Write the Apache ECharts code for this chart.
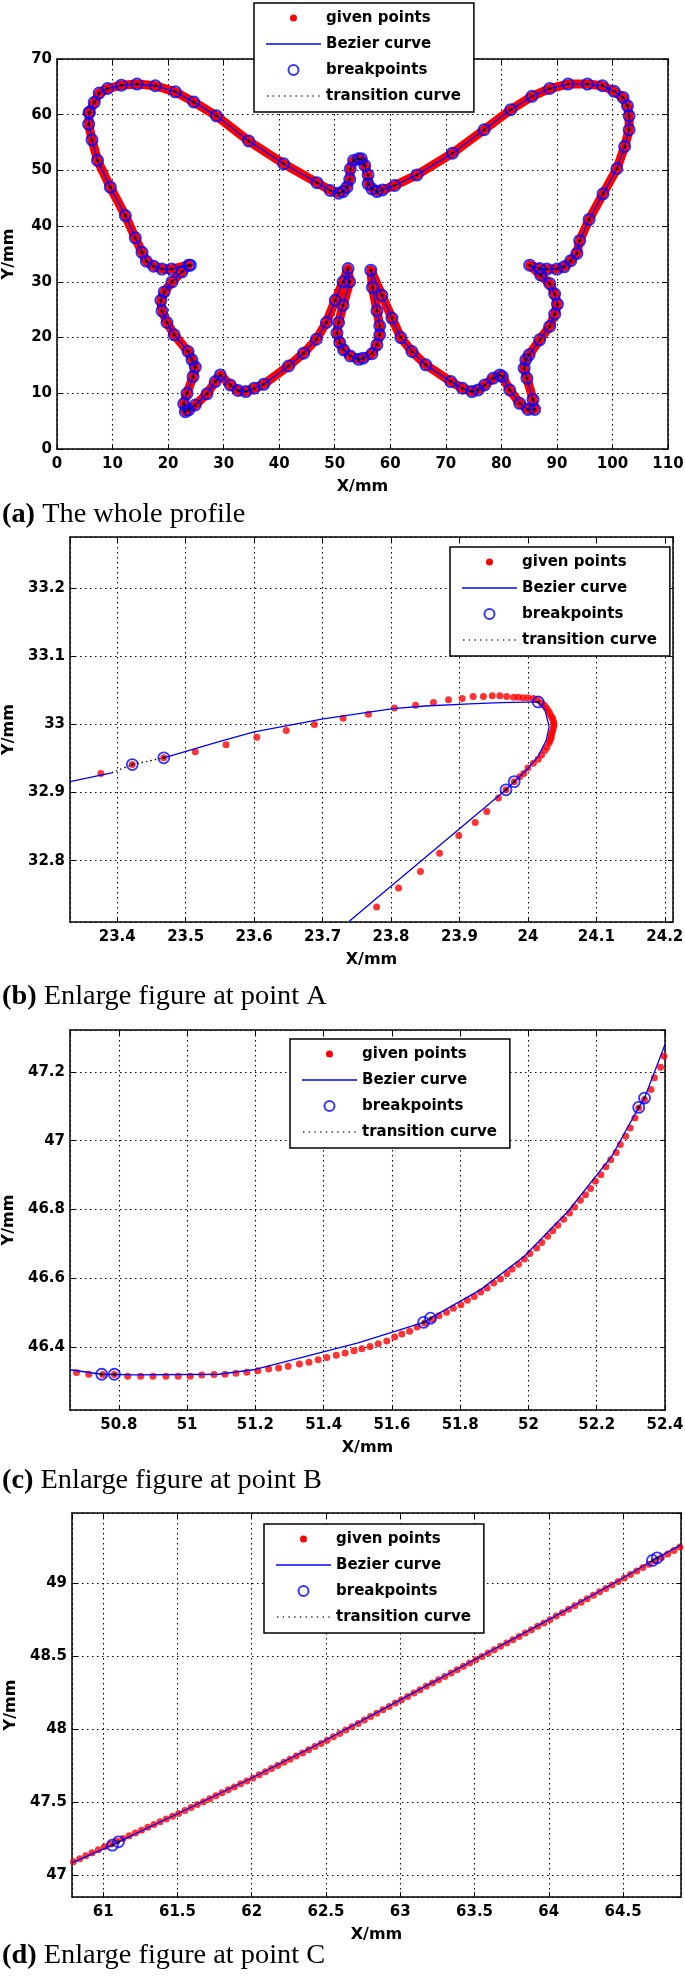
<!DOCTYPE html>
<html>
<head>
<meta charset="utf-8">
<script src="https://cdn.jsdelivr.net/npm/echarts@6.0.0/dist/echarts.min.js"></script>
<style>
html,body{margin:0;padding:0;background:#fff;}
#chart{width:685px;height:1979px;}
</style>
</head>
<body>
<div id="chart"></div>
<script>
// ---------- DATA ----------
const seriesNames = ['given points', 'Bezier curve', 'breakpoints', 'transition curve'];
const captions = [['(a)', ' The whole profile'], ['(b)', ' Enlarge figure at point A'], ['(c)', ' Enlarge figure at point B'], ['(d)', ' Enlarge figure at point C']];

// axis ranges [min, max, step]
const xRangeA = [0, 110, 10];
const yRangeA = [0, 70, 10];
const xRangeB = [23.331, 24.212, 0.1];
const yRangeB = [32.71, 33.275, 0.1];
const xRangeC = [50.657, 52.4, 0.2];
const yRangeC = [46.217, 47.322, 0.2];
const xRangeD = [60.79, 64.89, 0.5];
const yRangeD = [46.85, 49.48, 0.5];

// (a) whole butterfly profile (breakpoints along the outline)
const profileA = [
[5.8,60.4],[5.7,58.3],[6.3,55.5],[7.3,51.8],[9.6,47.0],[12.3,41.9],[14.1,37.9],[15.3,35.3],[16.1,33.7],[17.4,32.8],[18.9,32.3],[20.6,32.3],[23.7,33.0],[24.0,33.0],
[22.5,31.8],[20.7,30.0],[19.3,28.2],[18.7,26.7],[18.9,24.8],[19.8,22.7],[21.1,20.5],[23.6,17.5],[24.3,16.0],[24.9,14.7],[24.5,13.0],[23.4,10.0],[22.8,8.1],[23.1,6.7],[23.7,7.0],[24.9,7.9],
[27.0,9.9],[28.5,12.1],[29.4,13.3],[31.2,11.5],[32.6,10.5],[34.0,10.3],[35.5,10.9],[37.2,11.6],[41.7,14.9],[44.4,17.2],[46.7,19.7],[48.5,22.7],[50.1,26.7],[51.5,30.0],[52.4,32.4],
[52.7,30.0],[51.5,25.8],[50.7,22.7],[50.4,20.8],[50.9,19.1],[51.6,17.8],[52.8,16.7],[54.3,16.1],[55.1,16.3],[56.7,17.1],[57.6,18.7],[58.1,20.5],[58.1,22.1],[57.6,24.8],[56.8,29.0],[56.5,32.1],
[58.5,27.6],[60.3,23.5],[61.9,20.0],[63.9,17.5],[66.4,15.1],[70.9,12.1],[73.0,10.9],[74.7,10.3],[75.8,10.6],[77.0,11.5],[78.5,12.7],[79.7,13.3],[80.2,13.0],[81.5,10.6],[83.3,8.2],[84.8,7.1],[86.0,7.1],
[85.7,8.9],[84.6,12.7],[84.1,14.5],[84.4,16.0],[85.0,16.9],[86.9,19.6],[88.7,22.0],[89.6,24.2],[90.1,26.0],[89.6,27.8],[88.7,29.7],[87.1,31.2],[85.1,33.0],
[86.9,32.4],[88.2,32.3],[90.0,32.3],[91.3,32.7],[92.5,33.8],[93.6,35.1],[94.1,37.4],[95.8,41.2],[98.3,45.8],[100.8,50.3],[102.2,54.3],[103.0,57.3],[103.0,59.8],[102.7,61.6],[101.9,63.1],[100.3,64.2],
[98.2,65.2],[95.5,65.5],[92.0,65.5],[88.7,64.7],[85.5,63.3],[81.7,60.9],[76.9,57.3],[71.2,53.1],[64.8,49.2],[60.8,47.3],[58.6,46.5],[57.6,46.2],[56.7,46.7],[56.0,47.6],[56.0,49.2],[55.4,50.9],[54.8,52.1],
[54.3,52.1],[53.4,51.8],[52.8,50.3],[52.7,48.4],[52.2,47.0],[51.5,46.2],[50.7,45.9],[49.2,46.4],[46.8,47.8],[40.8,51.2],[34.5,55.3],[28.7,59.8],[24.6,62.3],[21.3,64.1],[17.7,65.2],[14.4,65.5],
[11.6,65.3],[9.1,64.7],[7.6,63.9],[6.7,62.2],[5.8,60.4]
];

// (b) point A
const givenB = [
[23.376,32.928],[23.422,32.941],[23.468,32.951],[23.514,32.960],[23.559,32.970],[23.604,32.981],[23.647,32.991],[23.688,33.000],[23.730,33.009],[23.767,33.015],[23.805,33.024],[23.836,33.028],[23.862,33.032],[23.884,33.036],[23.904,33.038],[23.920,33.041],[23.935,33.041],[23.948,33.042],[23.959,33.042],[23.969,33.041],[23.979,33.040],[23.986,33.040],[23.993,33.039],[24.000,33.039],[24.008,33.038],[24.014,33.036],[24.020,33.031],[24.024,33.028],[24.027,33.024],[24.030,33.020],[24.032,33.016],[24.034,33.012],[24.036,33.009],[24.037,33.005],[24.038,33.002],[24.038,32.998],[24.037,32.994],[24.036,32.990],[24.035,32.987],[24.034,32.983],[24.034,32.980],[24.032,32.976],[24.031,32.973],[24.028,32.967],[24.025,32.962],[24.020,32.955],[24.015,32.949],[24.008,32.943],[24.000,32.936],[23.994,32.928],[23.988,32.923],[23.980,32.916],[23.968,32.904],[23.957,32.892],[23.940,32.872],[23.923,32.856],[23.899,32.837],[23.871,32.811],[23.843,32.784],[23.811,32.760],[23.779,32.732]
];
const bezierB1 = [[23.331,32.916],[23.392,32.929]];
const bezierB2 = [[23.468,32.951],[23.550,32.975],[23.600,32.989],[23.701,33.008],[23.803,33.023],[23.850,33.027],[23.915,33.030],[23.960,33.032],[24.015,33.033],[24.025,33.021],[24.031,32.997],[24.027,32.977],[24.015,32.953],[23.998,32.933],[23.980,32.916],[23.968,32.904],[23.739,32.711]];
const transitionB = [[23.392,32.929],[23.422,32.941],[23.468,32.951]];
const breakB = [[23.422,32.941],[23.468,32.951],[24.015,33.033],[23.980,32.916],[23.968,32.904]];

// (c) point B
const givenC = [
[50.676,46.326],[50.712,46.321],[50.753,46.320],[50.787,46.320],[50.826,46.315],[50.864,46.315],[50.900,46.315],[50.938,46.315],[50.974,46.315],[51.009,46.315],[51.043,46.319],[51.079,46.320],[51.111,46.321],[51.143,46.324],[51.175,46.327],[51.207,46.331],[51.239,46.336],[51.268,46.339],[51.296,46.344],[51.329,46.351],[51.357,46.356],[51.384,46.363],[51.409,46.370],[51.437,46.376],[51.463,46.383],[51.489,46.389],[51.512,46.395],[51.536,46.402],[51.560,46.410],[51.585,46.418],[51.608,46.429],[51.629,46.438],[51.652,46.446],[51.674,46.458],[51.696,46.470],[51.719,46.481],[51.738,46.491],[51.760,46.501],[51.780,46.513],[51.802,46.523],[51.821,46.536],[51.841,46.547],[51.860,46.560],[51.879,46.572],[51.898,46.586],[51.918,46.598],[51.937,46.613],[51.952,46.627],[51.971,46.641],[51.988,46.656],[52.004,46.672],[52.024,46.688],[52.039,46.704],[52.056,46.722],[52.071,46.738],[52.086,46.754],[52.103,46.772],[52.120,46.790],[52.135,46.807],[52.152,46.827],[52.167,46.843],[52.182,46.861],[52.196,46.882],[52.212,46.901],[52.227,46.924],[52.241,46.945],[52.257,46.966],[52.269,46.989],[52.285,47.013],[52.298,47.037],[52.312,47.066],[52.323,47.095],[52.340,47.120],[52.359,47.149],[52.369,47.183],[52.387,47.214],[52.397,47.246]
];
const bezierC = [[50.657,46.334],[50.750,46.321],[50.850,46.319],[51.092,46.321],[51.194,46.334],[51.348,46.373],[51.501,46.412],[51.693,46.472],[51.713,46.484],[51.860,46.567],[51.988,46.664],[52.116,46.795],[52.244,46.955],[52.323,47.097],[52.340,47.124],[52.400,47.280]];
const breakC = [[50.750,46.321],[50.787,46.321],[51.693,46.472],[51.713,46.484],[52.323,47.097],[52.340,47.124]];

// (d) point C
const givenD = [
[60.800,47.092],[60.842,47.112],[60.883,47.133],[60.925,47.153],[60.967,47.174],[61.008,47.194],[61.050,47.213],[61.092,47.232],[61.133,47.251],[61.175,47.270],[61.217,47.289],[61.258,47.308],[61.300,47.327],[61.342,47.346],[61.383,47.365],[61.425,47.384],[61.467,47.403],[61.508,47.422],[61.550,47.442],[61.592,47.463],[61.633,47.483],[61.675,47.503],[61.717,47.523],[61.758,47.543],[61.800,47.564],[61.842,47.584],[61.883,47.604],[61.925,47.625],[61.967,47.645],[62.008,47.665],[62.050,47.687],[62.092,47.708],[62.133,47.730],[62.175,47.751],[62.217,47.773],[62.258,47.794],[62.300,47.816],[62.342,47.837],[62.383,47.859],[62.425,47.880],[62.467,47.902],[62.508,47.923],[62.550,47.947],[62.592,47.970],[62.633,47.993],[62.675,48.016],[62.717,48.039],[62.758,48.062],[62.800,48.086],[62.842,48.109],[62.883,48.132],[62.925,48.155],[62.967,48.179],[63.008,48.201],[63.050,48.224],[63.092,48.247],[63.133,48.270],[63.175,48.293],[63.217,48.316],[63.258,48.338],[63.300,48.361],[63.342,48.384],[63.383,48.407],[63.425,48.430],[63.467,48.453],[63.508,48.475],[63.550,48.498],[63.592,48.521],[63.633,48.544],[63.675,48.567],[63.717,48.590],[63.758,48.612],[63.800,48.635],[63.842,48.658],[63.883,48.681],[63.925,48.704],[63.967,48.727],[64.008,48.749],[64.050,48.774],[64.092,48.797],[64.133,48.821],[64.175,48.845],[64.217,48.869],[64.258,48.892],[64.300,48.916],[64.342,48.940],[64.383,48.963],[64.425,48.987],[64.467,49.011],[64.508,49.035],[64.550,49.058],[64.592,49.082],[64.633,49.106],[64.675,49.129],[64.717,49.153],[64.758,49.176],[64.800,49.200],[64.842,49.224],[64.883,49.247]
];
const bezierD = [[60.790,47.085],[61.062,47.205],[61.103,47.228],[61.500,47.420],[62.000,47.665],[62.500,47.925],[63.000,48.200],[63.500,48.475],[64.000,48.750],[64.500,49.035],[64.698,49.155],[64.730,49.173],[64.890,49.262]];
const breakD = [[61.062,47.205],[61.103,47.228],[64.698,49.155],[64.730,49.173]];

// ---------- STYLE ----------
const SANS = 'DejaVu Sans';
const SERIF = 'Liberation Serif';
const RED = '#ff0000', BLUE = '#0000ff', BLACK = '#000000';

const grids = [
  {left: 57, top: 59, width: 611, height: 390},
  {left: 70, top: 537, width: 603, height: 385},
  {left: 70, top: 1030, width: 595, height: 380},
  {left: 72, top: 1513, width: 609, height: 384}
];
const legendPos = [[254, 3], [450, 547], [290, 1039], [264, 1524]];
const captionY = [515, 997, 1481, 1956];
const labelShow = [
  {xmin: true, xmax: true, ymin: true, ymax: true},
  {xmin: false, xmax: false, ymin: false, ymax: false},
  {xmin: false, xmax: true, ymin: false, ymax: false},
  {xmin: false, xmax: false, ymin: false, ymax: false}
];
const ranges = [[xRangeA, yRangeA], [xRangeB, yRangeB], [xRangeC, yRangeC], [xRangeD, yRangeD]];
const yNameGap = [40, 53, 53, 53];

function fmt(v) { return String(Math.round(v * 1000) / 1000); }

const xAxes = [], yAxes = [];
ranges.forEach(function (r, gi) {
  const xr = r[0], yr = r[1];
  const common = function (rr) {
    return {
      type: 'value', gridIndex: gi, min: rr[0], max: rr[1],
      minInterval: rr[2], maxInterval: rr[2]
    };
  };
  const lab = labelShow[gi];
  xAxes.push(Object.assign(common(xr), {
    position: 'bottom',
    axisLine: {show: true, onZero: false, lineStyle: {color: BLACK, width: 1.5}},
    axisTick: {show: true, inside: true, length: 5, lineStyle: {color: BLACK, width: 1}},
    axisLabel: {show: true, color: BLACK, fontFamily: SANS, fontWeight: 'bold', fontSize: 15, margin: 8,
      showMinLabel: lab.xmin, showMaxLabel: lab.xmax, formatter: fmt},
    splitLine: {show: true, lineStyle: {color: BLACK, width: 1.1, type: [1.5, 3.5]}},
    name: 'X/mm', nameLocation: 'middle', nameGap: 30,
    nameTextStyle: {color: BLACK, fontFamily: SANS, fontWeight: 'bold', fontSize: 16}
  }));
  xAxes.push(Object.assign(common(xr), {
    position: 'top',
    axisLine: {show: true, onZero: false, lineStyle: {color: BLACK, width: 1.5}},
    axisTick: {show: true, inside: true, length: 5, lineStyle: {color: BLACK, width: 1}},
    axisLabel: {show: false}, splitLine: {show: false}
  }));
  yAxes.push(Object.assign(common(yr), {
    position: 'left',
    axisLine: {show: true, onZero: false, lineStyle: {color: BLACK, width: 1.5}},
    axisTick: {show: true, inside: true, length: 5, lineStyle: {color: BLACK, width: 1}},
    axisLabel: {show: true, color: BLACK, fontFamily: SANS, fontWeight: 'bold', fontSize: 15, margin: 5,
      showMinLabel: lab.ymin, showMaxLabel: lab.ymax, formatter: fmt},
    splitLine: {show: true, lineStyle: {color: BLACK, width: 1.1, type: [1.5, 3.5]}},
    name: 'Y/mm', nameLocation: 'middle', nameGap: yNameGap[gi],
    nameTextStyle: {color: BLACK, fontFamily: SANS, fontWeight: 'bold', fontSize: 16}
  }));
  yAxes.push(Object.assign(common(yr), {
    position: 'right',
    axisLine: {show: true, onZero: false, lineStyle: {color: BLACK, width: 1.5}},
    axisTick: {show: true, inside: true, length: 5, lineStyle: {color: BLACK, width: 1}},
    axisLabel: {show: false}, splitLine: {show: false}
  }));
});
// panel (a) uses a plain interval (min 0 is a multiple of 10)
[0, 1].forEach(function (i) {
  delete xAxes[i].minInterval; delete xAxes[i].maxInterval; xAxes[i].interval = 10;
  delete yAxes[i].minInterval; delete yAxes[i].maxInterval; yAxes[i].interval = 10;
});

// legend icons (bounding box 55 x 10)
const ICON_DOT = 'path://M0,0M55,10M31,5A3.5,3.5,0,1,1,24,5A3.5,3.5,0,1,1,31,5Z';
const ICON_LINE = 'path://M0,0M55,10M0,4.3H55V5.7H0Z';
let dots = 'path://M0,0M55,10';
for (let k = 0; k < 10; k++) { const x0 = (1 + 5.7 * k).toFixed(1); dots += 'M' + x0 + ',4.3h1.4v1.4h-1.4Z'; }
const ICON_DOTS = dots;

const legends = legendPos.map(function (p) {
  return {
    left: p[0], top: p[1], orient: 'vertical',
    backgroundColor: '#fff', borderColor: BLACK, borderWidth: 1.5,
    padding: [6, 13, 7, 12], itemWidth: 55, itemHeight: 10, itemGap: 8,
    selectedMode: false,
    textStyle: {color: BLACK, fontFamily: SANS, fontWeight: 'bold', fontSize: 15, lineHeight: 18},
    data: [
      {name: seriesNames[0], icon: ICON_DOT, itemStyle: {color: RED, borderWidth: 0}},
      {name: seriesNames[1], icon: ICON_LINE, itemStyle: {color: BLUE, borderWidth: 0}},
      {name: seriesNames[2], icon: 'emptyCircle', itemStyle: {color: BLUE}},
      {name: seriesNames[3], icon: ICON_DOTS, itemStyle: {color: BLACK, borderWidth: 0}}
    ]
  };
});

function idx(gi) { return {xAxisIndex: 2 * gi, yAxisIndex: 2 * gi}; }
function given(gi, data, size) {
  return Object.assign({name: seriesNames[0], type: 'scatter', data: data, symbol: 'circle', symbolSize: size,
    itemStyle: {color: RED}, z: 2, silent: true}, idx(gi));
}
function bez(gi, data) {
  return Object.assign({name: seriesNames[1], type: 'line', data: data, showSymbol: false, symbol: 'none',
    lineStyle: {color: BLUE, width: 1.3}, itemStyle: {color: BLUE}, z: 3, silent: true}, idx(gi));
}
function brk(gi, data, size, bw) {
  return Object.assign({name: seriesNames[2], type: 'scatter', data: data, symbol: 'circle', symbolSize: size,
    itemStyle: {color: 'rgba(0,0,0,0)', borderColor: BLUE, borderWidth: bw}, z: 4, silent: true}, idx(gi));
}
function transDots(gi, data) {
  return Object.assign({name: seriesNames[3], type: 'scatter', data: data, symbol: 'circle', symbolSize: 3,
    itemStyle: {color: BLACK}, z: 5, silent: true}, idx(gi));
}
function transLine(gi, data) {
  return Object.assign({name: seriesNames[3], type: 'line', data: data, showSymbol: false, symbol: 'none',
    lineStyle: {color: BLACK, width: 1.4, type: [1.5, 3]}, itemStyle: {color: BLACK}, z: 5, silent: true}, idx(gi));
}

const series = [
  // (a)
  Object.assign({name: seriesNames[0], type: 'line', data: profileA, showSymbol: false, symbol: 'none',
    lineStyle: {color: RED, width: 9, cap: 'round', join: 'round'}, itemStyle: {color: RED}, z: 2, silent: true}, idx(0)),
  bez(0, profileA),
  brk(0, profileA, 11, 2),
  transDots(0, profileA),
  // (b)
  given(1, givenB, 7),
  bez(1, bezierB1),
  bez(1, bezierB2),
  transLine(1, transitionB),
  brk(1, breakB, 11, 1.8),
  transDots(1, breakB),
  // (c)
  given(2, givenC, 7),
  bez(2, bezierC),
  brk(2, breakC, 11, 1.8),
  transDots(2, breakC),
  // (d)
  given(3, givenD, 7),
  bez(3, bezierD),
  brk(3, breakD, 11, 1.8),
  transDots(3, breakD)
];

const graphic = captions.map(function (c, i) {
  return {
    type: 'text', x: 2, y: captionY[i], scaleX: 1.05, silent: true,
    style: {
      text: '{b|' + c[0] + '}' + c[1],
      fontFamily: SERIF, fontSize: 27, fill: BLACK, verticalAlign: 'middle', align: 'left',
      rich: {b: {fontFamily: SERIF, fontSize: 27, fontWeight: 'bold', fill: BLACK}}
    }
  };
});

const chart = echarts.init(document.getElementById('chart'), null, {renderer: 'canvas', width: 685, height: 1979});
chart.setOption({
  backgroundColor: '#ffffff',
  animation: false,
  textStyle: {fontFamily: SANS},
  grid: grids.map(function (g) { return Object.assign({containLabel: false, outerBoundsMode: 'none'}, g); }),
  xAxis: xAxes,
  yAxis: yAxes,
  legend: legends,
  series: series,
  graphic: graphic
});
</script>
</body>
</html>
